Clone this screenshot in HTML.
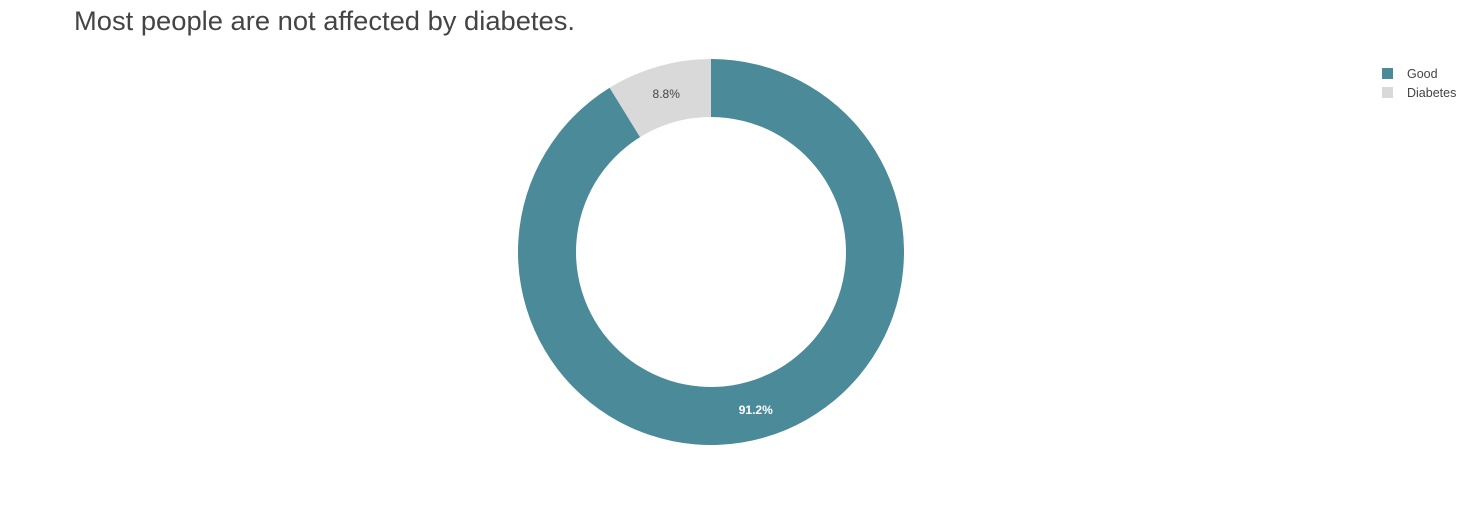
<!DOCTYPE html>
<html><head><meta charset="utf-8"><style>
html,body{margin:0;padding:0;background:#fff;width:1476px;height:525px;overflow:hidden}
svg{display:block;font-family:"Liberation Sans",sans-serif}
</style></head><body>
<svg id="chart" width="1476" height="525">
<text x="74" y="30" font-size="27" fill="#444" textLength="501" lengthAdjust="spacingAndGlyphs">Most people are not affected by diabetes.</text>
<g id="slices"></g>
<g id="legend"></g>
</svg>
<script>
const categories = ["Good", "Diabetes"];
const values = [91.2, 8.8];
const colors = ["#4a8a99", "#d9d9d9"];
const textColors = ["#fff", "#444"];

const cx = 711, cy = 252, R = 193, r = 135;
const ns = "http://www.w3.org/2000/svg";
const g = document.getElementById("slices");
const lg = document.getElementById("legend");
const total = values.reduce((a, b) => a + b, 0);
function pt(rad, ang) { return [cx + rad * Math.sin(ang), cy - rad * Math.cos(ang)]; }
let a0 = 0;
values.forEach((v, i) => {
  const a1 = a0 + v / total * 2 * Math.PI;
  const large = (a1 - a0) > Math.PI ? 1 : 0;
  const [x0, y0] = pt(R, a0), [x1, y1] = pt(R, a1), [x2, y2] = pt(r, a1), [x3, y3] = pt(r, a0);
  const p = document.createElementNS(ns, "path");
  p.setAttribute("d", `M${x0},${y0} A${R},${R} 0 ${large} 1 ${x1},${y1} L${x2},${y2} A${r},${r} 0 ${large} 0 ${x3},${y3} Z`);
  p.setAttribute("fill", colors[i]);
  
  
  g.appendChild(p);
  const mid = (a0 + a1) / 2;
  const [tx, ty] = pt((R + r) / 2, mid);
  const t = document.createElementNS(ns, "text");
  t.setAttribute("x", tx); t.setAttribute("y", ty + 4);
  t.setAttribute("text-anchor", "middle");
  t.setAttribute("font-size", "12");
  t.setAttribute("fill", textColors[i]);
  if (i === 0) t.setAttribute("font-weight", "bold");
  t.textContent = (v / total * 100).toFixed(1) + "%";
  
  
  g.appendChild(t);
  a0 = a1;

  const rect = document.createElementNS(ns, "rect");
  rect.setAttribute("x", 1382); rect.setAttribute("y", 68 + i * 19);
  rect.setAttribute("width", 11); rect.setAttribute("height", 11);
  rect.setAttribute("fill", colors[i]);
  
  
  lg.appendChild(rect);
  const lt = document.createElementNS(ns, "text");
  lt.setAttribute("x", 1407); lt.setAttribute("y", 78 + i * 19);
  lt.setAttribute("font-size", "12.5"); lt.setAttribute("fill", "#444");
  lt.textContent = categories[i];
  
  
  lg.appendChild(lt);
});
</script>
</body></html>
